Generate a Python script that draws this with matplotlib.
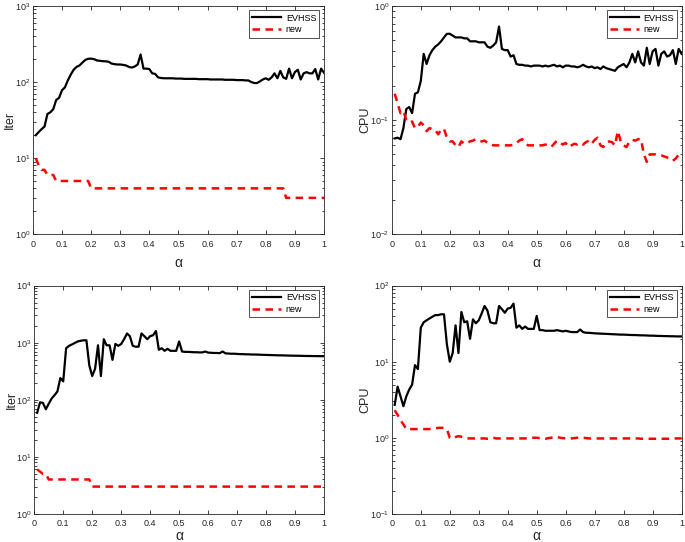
import numpy as np
import matplotlib
matplotlib.use("Agg")
import matplotlib.pyplot as plt
from matplotlib.ticker import LogLocator, NullFormatter

plt.rcParams['font.family'] = ['Liberation Sans', 'DejaVu Sans']
plt.rcParams['mathtext.fontset'] = 'custom'
plt.rcParams['mathtext.rm'] = 'Liberation Sans'

alpha = np.round(np.arange(1, 101) * 0.01, 2)
xticks = [0, 0.1, 0.2, 0.3, 0.4, 0.5, 0.6, 0.7, 0.8, 0.9, 1]
xticklabels = ['0', '0.1', '0.2', '0.3', '0.4', '0.5', '0.6', '0.7', '0.8', '0.9', '1']

# top-left: Iter
iter1_evhss = [20, 22, 24, 26, 38, 40, 44, 58, 62, 78,
               85, 105, 125, 145, 158, 165, 180, 195, 202, 203,
               200, 192, 190, 188, 187, 185, 175, 172, 170, 170,
               168, 165, 158, 155, 160, 170, 230, 150, 150, 148,
               130, 128, 115, 113, 112, 112, 112, 112, 111, 111,
               111, 110, 110, 110, 110, 110, 109, 109, 109, 109,
               108, 108, 108, 108, 108, 107, 107, 107, 107, 106,
               106, 106, 105, 105, 100, 97, 97, 102, 108, 112,
               107, 115, 130, 112, 140, 115, 110, 150, 112, 135,
               145, 108, 130, 135, 130, 130, 148, 108, 150, 132]
iter1_new = [10, 8, 7, 7, 6, 6, 6, 5, 5, 5,
             5, 5, 5, 5, 5, 5, 5, 5, 5, 4,
             4, 4, 4, 4, 4, 4, 4, 4, 4, 4,
             4, 4, 4, 4, 4, 4, 4, 4, 4, 4,
             4, 4, 4, 4, 4, 4, 4, 4, 4, 4,
             4, 4, 4, 4, 4, 4, 4, 4, 4, 4,
             4, 4, 4, 4, 4, 4, 4, 4, 4, 4,
             4, 4, 4, 4, 4, 4, 4, 4, 4, 4,
             4, 4, 4, 4, 4, 4, 3, 3, 3, 3,
             3, 3, 3, 3, 3, 3, 3, 3, 3, 3]

# top-right: CPU
cpu1_evhss = [0.069, 0.070, 0.068, 0.085, 0.125, 0.130, 0.115, 0.170, 0.175, 0.220,
              0.380, 0.310, 0.370, 0.410, 0.440, 0.460, 0.490, 0.530, 0.570, 0.570,
              0.550, 0.530, 0.530, 0.530, 0.520, 0.520, 0.490, 0.490, 0.490, 0.480,
              0.480, 0.480, 0.440, 0.430, 0.450, 0.480, 0.660, 0.420, 0.410, 0.410,
              0.360, 0.370, 0.310, 0.305, 0.305, 0.300, 0.300, 0.295, 0.300, 0.300,
              0.300, 0.295, 0.300, 0.295, 0.300, 0.305, 0.295, 0.300, 0.290, 0.300,
              0.300, 0.295, 0.295, 0.290, 0.295, 0.305, 0.295, 0.290, 0.295, 0.285,
              0.290, 0.280, 0.295, 0.285, 0.280, 0.275, 0.270, 0.290, 0.300, 0.310,
              0.290, 0.320, 0.380, 0.320, 0.400, 0.320, 0.300, 0.430, 0.310, 0.400,
              0.420, 0.300, 0.380, 0.400, 0.360, 0.370, 0.410, 0.310, 0.420, 0.380]
cpu1_new = [0.170, 0.140, 0.115, 0.120, 0.100, 0.095, 0.097, 0.085, 0.087, 0.095,
            0.090, 0.080, 0.085, 0.083, 0.082, 0.075, 0.082, 0.084, 0.070, 0.065,
            0.065, 0.060, 0.058, 0.065, 0.062, 0.063, 0.065, 0.066, 0.068, 0.066,
            0.065, 0.066, 0.063, 0.062, 0.060, 0.060, 0.060, 0.060, 0.060, 0.060,
            0.060, 0.061, 0.063, 0.066, 0.068, 0.063, 0.060, 0.060, 0.060, 0.060,
            0.060, 0.060, 0.061, 0.060, 0.058, 0.062, 0.066, 0.064, 0.061, 0.063,
            0.058, 0.060, 0.062, 0.061, 0.063, 0.061, 0.064, 0.066, 0.062, 0.067,
            0.070, 0.060, 0.058, 0.063, 0.065, 0.064, 0.060, 0.080, 0.065, 0.060,
            0.058, 0.065, 0.067, 0.066, 0.068, 0.068, 0.050, 0.043, 0.050, 0.050,
            0.050, 0.049, 0.049, 0.048, 0.047, 0.046, 0.044, 0.046, 0.050, 0.053]

# bottom-left: Iter
iter2_evhss = [59, 90, 88, 68, 85, 105, 120, 140, 240, 210,
               800, 880, 930, 990, 1050, 1080, 1100, 1100, 400, 260,
               350, 900, 260, 1150, 900, 900, 500, 950, 880, 950,
               1150, 1450, 1300, 880, 850, 850, 1450, 1300, 1150, 1300,
               1350, 1600, 750, 800, 720, 780, 720, 720, 720, 1050,
               700, 690, 690, 685, 680, 680, 675, 675, 700, 670,
               665, 660, 660, 655, 700, 650, 645, 640, 640, 635,
               630, 630, 625, 625, 620, 620, 618, 615, 612, 610,
               608, 605, 603, 600, 600, 598, 596, 594, 592, 590,
               590, 588, 586, 585, 584, 583, 582, 581, 580, 580]
iter2_new = [6, 5.5, 5, 5, 4, 4, 4, 4, 4, 4,
             4, 4, 4, 4, 4, 4, 4, 4, 4, 3,
             3, 3, 3, 3, 3, 3, 3, 3, 3, 3,
             3, 3, 3, 3, 3, 3, 3, 3, 3, 3,
             3, 3, 3, 3, 3, 3, 3, 3, 3, 3,
             3, 3, 3, 3, 3, 3, 3, 3, 3, 3,
             3, 3, 3, 3, 3, 3, 3, 3, 3, 3,
             3, 3, 3, 3, 3, 3, 3, 3, 3, 3,
             3, 3, 3, 3, 3, 3, 3, 3, 3, 3,
             3, 3, 3, 3, 3, 3, 3, 3, 3, 3]

# bottom-right: CPU
cpu2_evhss = [2.7, 4.7, 3.5, 2.6, 3.5, 4.3, 5.0, 9.0, 8.0, 28,
              33, 35, 37, 39, 41, 41, 42, 42, 17, 10,
              13, 30, 13, 45, 33, 34, 20, 36, 32, 35,
              43, 54, 47, 33, 32, 32, 54, 49, 44, 50,
              51, 58, 28, 30, 27, 29, 27, 27, 27, 40,
              26, 26, 25.5, 25.5, 25.5, 25.5, 26, 25.5, 25, 25.5,
              25, 24.5, 24.5, 24.5, 26.5, 24.5, 24, 24, 23.8, 23.6,
              23.5, 23.4, 23.3, 23.2, 23.1, 23.0, 22.9, 22.8, 22.7, 22.7,
              22.6, 22.5, 22.4, 22.4, 22.3, 22.2, 22.2, 22.1, 22.0, 22.0,
              21.9, 21.8, 21.8, 21.7, 21.7, 21.6, 21.6, 21.5, 21.5, 21.5]
cpu2_new = [2.3, 2.0, 1.7, 1.5, 1.3, 1.3, 1.3, 1.3, 1.3, 1.3,
            1.3, 1.3, 1.3, 1.3, 1.32, 1.35, 1.35, 1.35, 1.3, 1.0,
            0.97, 1.02, 1.05, 1.03, 1.0, 0.98, 0.98, 0.98, 0.98, 0.98,
            0.98, 0.98, 0.97, 0.98, 1.0, 0.98, 0.98, 0.98, 0.98, 0.98,
            0.98, 0.98, 0.98, 0.98, 0.98, 0.98, 0.99, 1.0, 1.0, 1.0,
            0.99, 0.98, 0.97, 0.99, 1.0, 1.01, 1.03, 1.0, 0.99, 0.98,
            0.97, 0.98, 0.99, 1.0, 1.01, 1.0, 0.99, 0.98, 0.98, 0.98,
            0.98, 0.98, 0.98, 0.98, 0.98, 0.98, 0.98, 0.98, 0.98, 0.98,
            0.98, 0.98, 0.98, 0.98, 0.98, 0.97, 0.97, 0.97, 0.97, 0.97,
            0.97, 0.97, 0.97, 0.97, 0.97, 0.97, 0.97, 0.98, 0.98, 0.98]

# (position, evhss, new, ylabel, ylim, ylabel x, xlabel y)
panels = [
    ([0.048, 0.568, 0.425, 0.421], iter1_evhss, iter1_new, 'Iter', (1, 1e3), -0.058, -0.095),
    ([0.572, 0.568, 0.423, 0.421], cpu1_evhss, cpu1_new, 'CPU', (1e-2, 1), -0.072, -0.095),
    ([0.050, 0.052, 0.423, 0.421], iter2_evhss, iter2_new, 'Iter', (1, 1e4), -0.058, -0.066),
    ([0.572, 0.052, 0.423, 0.421], cpu2_evhss, cpu2_new, 'CPU', (1e-1, 1e2), -0.072, -0.066),
]

fig = plt.figure(figsize=(6.85, 5.42), dpi=100)
axc = '#262626'
for pos, ev, nw, ylab, ylim, ylx, xly in panels:
    ax = fig.add_axes(pos)
    ax.plot(alpha, ev, color='black', lw=1.6, label='EVHSS')
    ax.plot(alpha, nw, color='red', lw=1.8, ls=(0, (3, 2.2)), label='new')
    ax.set_yscale('log')
    ax.set_xlim(0, 1)
    ax.set_ylim(*ylim)
    ax.set_xticks(xticks)
    ax.set_xticklabels(xticklabels)
    ax.yaxis.set_major_locator(LogLocator(base=10, numticks=10))
    ax.yaxis.set_minor_locator(LogLocator(base=10, subs=np.arange(2, 10), numticks=10))
    ax.yaxis.set_minor_formatter(NullFormatter())
    ax.tick_params(which='both', direction='in', top=True, right=True,
                   labelsize=6.5, colors=axc, length=3, width=0.6)
    ax.tick_params(which='minor', length=1.8)
    ax.tick_params(axis='x', pad=4)
    ax.tick_params(axis='y', pad=2)
    for s in ax.spines.values():
        s.set_color(axc)
        s.set_linewidth(0.6)
    ax.set_ylabel(ylab, fontsize=9, color=axc)
    ax.yaxis.set_label_coords(ylx, 0.5)
    ax.set_xlabel('α', fontsize=10, color=axc)
    ax.xaxis.set_label_coords(0.5, xly)
    leg = ax.legend(loc='upper right', fontsize=6.5, frameon=True, fancybox=False,
                    handlelength=3.2, borderpad=0.35, labelspacing=0.3,
                    handletextpad=0.5, borderaxespad=0.5)
    leg.get_frame().set_edgecolor('black')
    leg.get_frame().set_linewidth(0.6)

fig.savefig('out.png', dpi=100)
